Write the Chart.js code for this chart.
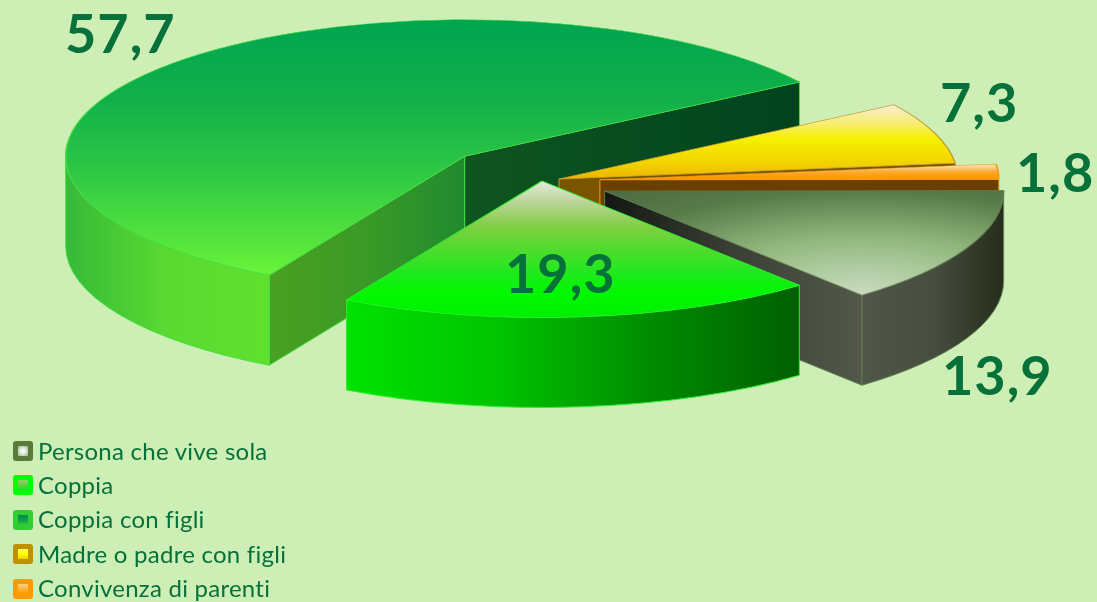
<!DOCTYPE html>
<html lang="it">
<head>
<meta charset="utf-8">
<title>Famiglie per tipologia</title>
<script src="https://cdn.jsdelivr.net/npm/chart.js@4/dist/chart.umd.js"></script>
<style>
    html, body { margin: 0; padding: 0; background: #cdeeb5; }
    #wrap { position: relative; width: 1097px; height: 602px; overflow: hidden; background: #cdeeb5; }
    #pie { position: absolute; left: 0; top: 0; }
    #legend { position: absolute; left: 13px; top: 433.5px; font-family: Lato, sans-serif; font-size: 24px; color: #07713a; }
    .row { position: absolute; left: 0; height: 34px; line-height: 34px; white-space: nowrap; }
    .box { position: absolute; left: 0; top: 7.5px; width: 20px; height: 20px; border-radius: 3px; }
    .box i { position: absolute; left: 5px; top: 5px; width: 10px; height: 10px; display: block; }
    .row span { position: absolute; left: 25px; top: 0; letter-spacing: 0.25px; }
</style>
</head>
<body>
<div id="wrap">
    <canvas id="pie" width="1097" height="602"></canvas>
    <div id="legend"></div>
</div>
<script>
// Chart data
const categories = ['Persona che vive sola', 'Coppia', 'Coppia con figli', 'Madre o padre con figli', 'Convivenza di parenti'];
const shares = [13.9, 19.3, 57.7, 7.3, 1.8];

// How the disc is laid out
const radius = 399;
const squash = 0.342;
const depth = 90;
const padRight = 13;
const padBottom = 240;
const explode = [69, 0, 106, 18, 58];   // distance of each slice from the centre
const paintOrder = [2, 3, 4, 0, 1];     // back to front

const borderColors = ['#5f7d50', '#2cf02c', '#45dc45', '#c09a30', '#f09a18'];

// Top face gradients: [px below the slice tip on screen, colour]
const topStops = [
    null,
    [[0, '#e8e8de'], [22, '#b8d494'], [46, '#7fce40'], [90, '#22e81e'], [112, '#00f800'], [137, '#00f000']],
    [[-137, '#00a54f'], [-57, '#12b04b'], [20, '#30c944'], [116, '#68f23a']],
    [[-75, '#f6ecd6'], [-55, '#f7ee70'], [-40, '#f6f000'], [-15, '#f2d200'], [0, '#edb300']],
    [[-13, '#f8d7a0'], [-9, '#fbb040'], [-3, '#ff9a00']]
];
const greyGlow = [[0, '#c9dabf'], [0.25, '#a8c898'], [0.43, '#8eb47a'], [0.75, '#587a48'], [1, '#4c6a40']];

// Side walls, shaded left to right
const rimShades = [
    ['#50574a', '#474e3f', '#252d1c'],
    ['#00e200', '#00c400', '#008c00', '#005f00'],
    ['#37b93a', '#5ada30', '#5fe02e'],
    ['#7a5500'],
    ['#6b3f00']
];
const startWallShades = [null, null, ['#4aa020', '#3a9a26', '#218a30'], null, null];
const endWallShades = [
    ['#131813', '#3a4035', '#53584b'],
    null,
    ['#0f5520', '#00431f'],
    ['#7a5500'],
    ['#6b3f00']
];

// Value label spots and legend swatches
const labelSpots = [[942, 395], [505, 293], [65, 53], [940, 122], [1016, 192]];
const swatchEdges = ['#5b7b39', '#00ff00', '#33cc33', '#bf9000', '#ff9900'];
const swatchCores = [
    'radial-gradient(circle, #ffffff 0%, #dfe8d8 45%, #94ad80 100%)',
    'linear-gradient(#a6c668, #20dc20)',
    'linear-gradient(#008a50, #0aa048 50%, #33cc33)',
    'linear-gradient(#ffff66, #ffff00 50%, #f0d000)',
    'linear-gradient(#ffd080, #ff9900)'
];

// Fill for a slice's top face, in the disc's own unsquashed coordinates
function topFill(chart, i) {
    const cx = (chart.width - padRight) / 2;
    const cy = (chart.height - padBottom) / 2;
    const ctx = chart.ctx;
    let grad;
    if (i === 0) {
        grad = ctx.createRadialGradient(cx + 258, cy + 103 / squash, 0, cx + 258, cy + 103 / squash, 400);
        greyGlow.forEach(s => grad.addColorStop(s[0], s[1]));
        return grad;
    }
    const stops = topStops[i];
    const y0 = cy + stops[0][0] / squash;
    const y1 = cy + stops[stops.length - 1][0] / squash;
    grad = ctx.createLinearGradient(0, y0, 0, y1);
    stops.forEach(s => grad.addColorStop((s[0] - stops[0][0]) / (stops[stops.length - 1][0] - stops[0][0]), s[1]));
    return grad;
}

function shade(ctx, x0, x1, colors) {
    if (colors.length === 1) return colors[0];
    const grad = ctx.createLinearGradient(x0, 0, x1, 0);
    colors.forEach((c, n) => grad.addColorStop(n / (colors.length - 1), c));
    return grad;
}

// Flat wall running from the centre out to the rim along one edge of a slice
function radialWall(ctx, arc, angle, colors, border) {
    const ex = arc.x + Math.cos(angle) * radius;
    const ey = arc.y + Math.sin(angle) * radius * squash;
    ctx.beginPath();
    ctx.moveTo(arc.x, arc.y);
    ctx.lineTo(ex, ey);
    ctx.lineTo(ex, ey + depth);
    ctx.lineTo(arc.x, arc.y + depth);
    ctx.closePath();
    ctx.fillStyle = shade(ctx, Math.min(arc.x, ex), Math.max(arc.x, ex), colors);
    ctx.fill();
    ctx.strokeStyle = border;
    ctx.lineWidth = 1;
    ctx.stroke();
}

// Curved outer wall, only the part that faces the viewer
function rimWall(ctx, arc, colors, border) {
    for (let turn = -1; turn <= 1; turn++) {
        const from = Math.max(arc.startAngle, turn * 2 * Math.PI);
        const to = Math.min(arc.endAngle, turn * 2 * Math.PI + Math.PI);
        if (to <= from) continue;
        const x0 = arc.x + Math.cos(from) * radius;
        const x1 = arc.x + Math.cos(to) * radius;
        ctx.beginPath();
        ctx.ellipse(arc.x, arc.y, radius, radius * squash, 0, from, to);
        ctx.ellipse(arc.x, arc.y + depth, radius, radius * squash, 0, to, from, true);
        ctx.closePath();
        ctx.fillStyle = shade(ctx, Math.min(x0, x1), Math.max(x0, x1), colors);
        ctx.fill();
        ctx.strokeStyle = border;
        ctx.lineWidth = 1;
        ctx.stroke();
    }
}

// Draws the pie as an exploded, tilted solid using the library's arc elements
const solidPie = {
    id: 'solidPie',
    beforeDatasetsDraw(chart) {
        const ctx = chart.ctx;
        const arcs = chart.getDatasetMeta(0).data;
        paintOrder.forEach(i => {
            const arc = arcs[i];
            const mid = (arc.startAngle + arc.endAngle) / 2;
            ctx.save();
            ctx.translate(Math.cos(mid) * explode[i], Math.sin(mid) * explode[i] * squash);

            if (startWallShades[i] && Math.cos(arc.startAngle) < 0) {
                radialWall(ctx, arc, arc.startAngle, startWallShades[i], borderColors[i]);
            }
            if (endWallShades[i] && Math.cos(arc.endAngle) > 0) {
                radialWall(ctx, arc, arc.endAngle, endWallShades[i], borderColors[i]);
            }
            rimWall(ctx, arc, rimShades[i], borderColors[i]);

            ctx.translate(0, arc.y);
            ctx.scale(1, squash);
            ctx.translate(0, -arc.y);
            arc.draw(ctx);
            ctx.restore();
        });
        return false;
    },
    afterDraw(chart) {
        const ctx = chart.ctx;
        ctx.save();
        ctx.font = 'bold 54px Lato, sans-serif';
        ctx.letterSpacing = '1px';
        ctx.fillStyle = '#07713a';
        ctx.textAlign = 'left';
        ctx.textBaseline = 'alphabetic';
        shares.forEach((v, i) => {
            ctx.fillText(v.toFixed(1).replace('.', ','), labelSpots[i][0], labelSpots[i][1]);
        });
        ctx.restore();
    }
};

new Chart(document.getElementById('pie'), {
    type: 'pie',
    data: {
        labels: categories,
        datasets: [{
            data: shares,
            backgroundColor: c => topFill(c.chart, c.dataIndex),
            borderColor: borderColors,
            borderWidth: 1.5
        }]
    },
    options: {
        responsive: false,
        animation: false,
        events: [],
        rotation: 89.8,
        radius: radius,
        layout: { padding: { right: padRight, bottom: padBottom } },
        plugins: { legend: { display: false }, tooltip: { enabled: false } }
    },
    plugins: [solidPie]
});

// Legend rows
const legend = document.getElementById('legend');
categories.forEach((name, i) => {
    const row = document.createElement('div');
    row.className = 'row';
    row.style.top = (i * 34.4) + 'px';
    row.innerHTML = '<div class="box" style="background:' + swatchEdges[i] + '"><i style="background:' + swatchCores[i] + '"></i></div><span>' + name + '</span>';
    legend.appendChild(row);
});
</script>
</body>
</html>
